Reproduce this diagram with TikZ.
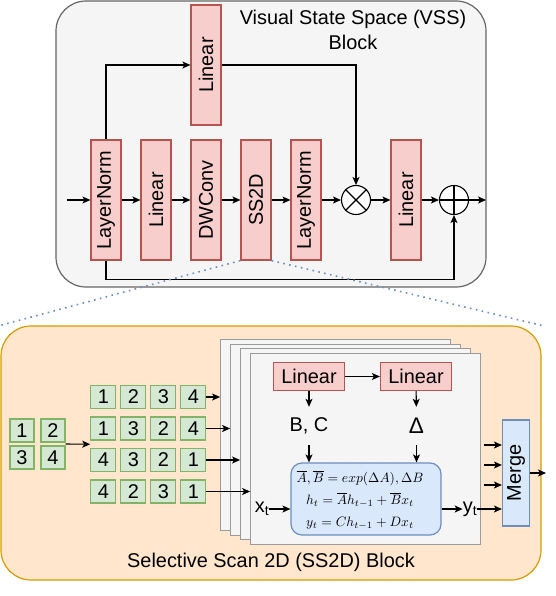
\documentclass[tikz,border=0pt]{standalone}
\usepackage{amsmath}
\usepackage{fontspec}
\setmainfont{Liberation Sans}
\usepackage{graphicx}
\usetikzlibrary{arrows.meta,calc}
\definecolor{pinkF}{HTML}{F8CECC}
\definecolor{pinkD}{HTML}{B85450}
\definecolor{greenF}{HTML}{D5E8D4}
\definecolor{greenD}{HTML}{82B366}
\definecolor{blueF}{HTML}{DAE8FC}
\definecolor{blueD}{HTML}{6C8EBF}
\definecolor{orangeF}{HTML}{FFE6CC}
\definecolor{orangeD}{HTML}{D79B00}
\definecolor{grayF}{HTML}{F5F5F5}
\definecolor{grayD}{HTML}{666666}
\definecolor{panelD}{HTML}{9A9A9A}
\begin{document}
\begin{tikzpicture}[x=1pt,y=-1pt,
  every node/.style={font=\fontsize{19.9}{23}\selectfont, inner sep=0pt},
  arr/.style={-{Stealth[length=8pt,width=7pt,inset=2pt]}, line width=1.1pt, black},
  vbox/.style={draw=pinkD, fill=pinkF, line width=1.2pt, minimum width=30pt, minimum height=120pt},
  hbox/.style={draw=pinkD, fill=pinkF, line width=1.2pt, minimum width=71pt, minimum height=28pt},
  cell/.style={draw=greenD, fill=greenF, line width=1.2pt, minimum width=25pt, minimum height=23pt},
  panel/.style={draw=panelD, fill=grayF, line width=1.2pt, minimum width=230pt, minimum height=191pt},
  bluebox/.style={draw=blueD, fill=blueF, line width=1.2pt},
  opc/.style={circle, draw=black, fill=white, line width=1.1pt, minimum size=29pt},
  dots/.style={draw=blueD, line width=1.6pt, dash pattern=on 1.6pt off 4.4pt}
]
\useasboundingbox (0,0) rectangle (555,596);

% ---------- VSS block ----------
\node[draw=grayD, fill=grayF, line width=1.2pt, rounded corners=30pt,
      minimum width=430pt, minimum height=286pt] (vss) at (271,144) {};
\node[align=center, font=\fontsize{19.9}{25}\selectfont] (title) at (353,29.5) {Visual State Space (VSS)\\Block};

\node[vbox] (ln1) at (106,200) {\rotatebox{90}{LayerNorm}};
\node[vbox] (lin1) at (156,200) {\rotatebox{90}{Linear}};
\node[vbox] (dw) at (206,200) {\rotatebox{90}{DWConv}};
\node[vbox] (ss) at (256,200) {\rotatebox{90}{SS2D}};
\node[vbox] (ln2) at (306,200) {\rotatebox{90}{LayerNorm}};
\node[vbox] (lin3) at (406,200) {\rotatebox{90}{Linear}};
\node[vbox] (lin2) at (206,65) {\rotatebox{90}{Linear}};
\node[opc] (mul) at (356,200) {};
\draw[line width=1.1pt] (mul.north west) -- (mul.south east) (mul.north east) -- (mul.south west);
\node[opc] (add) at (454,200) {};
\draw[line width=1.1pt] (add.north) -- (add.south) (add.west) -- (add.east);

\coordinate (vin) at (66.7,200);
\coordinate (vout) at (486,200);
\draw[arr] (vin) -- (ln1);
\draw[arr] (ln1) -- (lin1);
\draw[arr] (lin1) -- (dw);
\draw[arr] (dw) -- (ss);
\draw[arr] (ss) -- (ln2);
\draw[arr] (ln2) -- (mul);
\draw[arr] (mul) -- (lin3);
\draw[arr] (lin3) -- (add);
\draw[arr] (add) -- (vout);
\draw[arr] (ln1.north) |- (lin2.west);
\draw[arr] (lin2.east) -| (mul.north);
\draw[arr] (ln1.south) -- ++(0,19) -| (add.south);

% ---------- SS2D block ----------
\node[draw=orangeD, fill=orangeF, line width=1.2pt, rounded corners=30pt,
      minimum width=540pt, minimum height=254pt] (ob) at (271,453) {};
\draw[dots] (ss.south west) -- (ob.north west);
\draw[dots] (ss.south east) -- (ob.north east);
\node (cap) at (271,562) {Selective Scan 2D (SS2D) Block};

% small 2x2 grid
\node[cell, minimum width=24pt] (g1) at (22,430.5) {1};
\node[cell, minimum width=24pt] (g2) at (53,430.5) {2};
\node[cell, minimum width=24pt] (g3) at (22,457.5) {3};
\node[cell, minimum width=24pt] (g4) at (53,457.5) {4};

% sequences
\foreach \r/\y/\a/\b/\c/\d in {1/397/1/2/3/4, 2/428.5/1/3/2/4, 3/460/4/3/2/1, 4/491.5/4/2/3/1}{
  \node[cell] (s\r1) at (103.3,\y) {\a};
  \node[cell] (s\r2) at (133.3,\y) {\b};
  \node[cell] (s\r3) at (163.3,\y) {\c};
  \node[cell] (s\r4) at (193.3,\y) {\d};
}
\draw[arr] ($(g2.east)!0.5!(g4.east)$) -- ($(s21.west)!0.5!(s31.west)$);

% stacked panels
\node[panel] (p1) at (335.7,435) {};
\node[panel] (p2) at (345.7,439.6) {};
\node[panel] (p3) at (355.7,444.2) {};
\node[panel] (p4) at (365.7,448.8) {};

\draw[arr] (s14.east) -- (s14.east -| p1.west);
\draw[arr] (s24.east) -- (s24.east -| p2.west);
\draw[arr] (s34.east) -- (s34.east -| p3.west);
\draw[arr] (s44.east) -- (s44.east -| p4.west);

% panel content
\node[hbox] (la) at (309,376.5) {Linear};
\node[hbox] (lb) at (416,376.5) {Linear};
\draw[arr] (la) -- (lb);
\node[minimum height=38pt] (bc) at (309,426) {B, C};
\node[minimum height=38pt, font=\fontsize{22.5}{22}\selectfont] (dl) at (416.5,426) {Δ};
\node[bluebox, rounded corners=11pt, minimum width=150pt, minimum height=72pt] (eq) at (366,499) {};
\node[align=center, scale=1.36, font=\fontsize{10}{16.2}\selectfont] (eqt) at (360,500)
  {$\overline{A},\overline{B}=exp(\Delta A),\Delta B$\\
   $h_t=\overline{A}h_{t-1}+\overline{B}x_t$\\
   $y_t=Ch_{t-1}+Dx_t$};
\draw[arr] (la) -- (bc);
\draw[arr] (lb) -- (dl);
\draw[arr] (bc) -- (bc |- eq.north);
\draw[arr] (dl) -- (dl |- eq.north);

\node (xt) at (262,509) {x\textsubscript{t}};
\node (yt) at (470,509) {y\textsubscript{t}};
\draw[arr] (xt) -- (xt -| eq.west);
\draw[arr] (eq.east |- yt) -- (yt);

\node[bluebox, minimum width=27pt, minimum height=106pt] (mg) at (516,473) {\rotatebox{90}{Merge}};
\coordinate (m1) at (483.5,445);
\coordinate (m2) at (483.5,465);
\coordinate (m3) at (483.5,485);
\coordinate (mout) at (546,473);
\draw[arr] (m1) -- (m1 -| mg.west);
\draw[arr] (m2) -- (m2 -| mg.west);
\draw[arr] (m3) -- (m3 -| mg.west);
\draw[arr] (yt) -- (yt -| mg.west);
\draw[arr] (mg) -- (mout);
\end{tikzpicture}
\end{document}
